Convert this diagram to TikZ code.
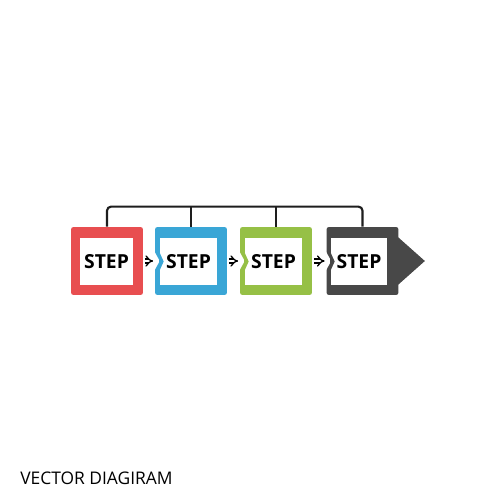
\documentclass[tikz,border=0pt]{standalone}
\usepackage{fontspec}
\setmainfont{Open Sans}
\usetikzlibrary{arrows.meta, calc, positioning}

\definecolor{my_red}{RGB}{232,78,80}
\definecolor{my_blue}{RGB}{58,166,214}
\definecolor{my_green}{RGB}{150,192,70}
\definecolor{my_dark}{RGB}{72,72,72}
\definecolor{my_line}{RGB}{30,30,30}

\tikzset{
	frame/.style={rectangle, rounded corners=0.05cm, minimum width=1.44cm, minimum height=1.36cm, inner sep=0pt},
	stepbox/.style={rectangle, fill=white, minimum width=1.14cm, minimum height=0.94cm, inner sep=0pt, font=\bfseries\fontsize{11}{13}\selectfont},
	imp/.style={draw=black, line width=0.75pt, double, double distance=1.4pt, -{Implies}, shorten <=0.03cm, shorten >=0.03cm},
	bracket/.style={draw=my_line, line width=1.2pt, rounded corners=0.08cm}
}

\begin{document}
\begin{tikzpicture}[x=0.02cm, y=-0.02cm]

	\fill[white] (0,0) rectangle (500,500);
	\useasboundingbox (0,0) rectangle (500,500);

	% frames
	\node [frame, fill=my_red] (f1) at (107,261) {};
	\node [frame, fill=my_blue] (f2) at (191,261) {};
	\node [frame, fill=my_green] (f3) at (276,261) {};
	\node [frame, fill=my_dark] (f4) at (362.5,261) {};

	% white inner boxes
	\node [stepbox, minimum width=1.06cm] (s1) at (106.5,261.5) {STEP};
	\node [stepbox] (s2) at ([xshift=-0.05cm]f2.center |- s1) {STEP};
	\node [stepbox] (s3) at ([xshift=-0.05cm]f3.center |- s1) {STEP};
	\node [stepbox, minimum width=1.12cm] (s4) at ([xshift=-0.07cm]f4.center |- s1) {STEP};

	% chevron notches on the left sides
	\foreach \f/\s/\c in {f2/s2/my_blue, f3/s3/my_green, f4/s4/my_dark} {
		\fill[white] ($(\f.west)+(-0.5,-10)$) -- ($(\f.west)+(5,0)$) -- ($(\f.west)+(-0.5,10)$) -- cycle;
		\fill[\c] ($(\s.west)+(-0.5,-10)$) -- ($(\s.west)+(4,0)$) -- ($(\s.west)+(-0.5,10)$) -- cycle;
	}

	% arrow head of the last box
	\fill[my_dark] ($(f4.east)+(-1,-24)$) -- ($(f4.east)+(26,0)$) -- ($(f4.east)+(-1,24)$) -- cycle;

	% small arrows
	\path [imp] (f1.east) -- (f2.west);
	\path [imp] (f2.east) -- (f3.west);
	\path [imp] (f3.east) -- (f4.west);

	% bracket over the steps
	\path [bracket] (f1.north) -- ++(0,-20) -| (f4.north);
	\path [bracket] (f2.north) -- ++(0,-20);
	\path [bracket] (f3.north) -- ++(0,-20);

	\node [anchor=base west, inner sep=0pt, font=\fontsize{9.9}{11}\selectfont] (title) at (20,484) {VECTOR DIAGIRAM};

\end{tikzpicture}
\end{document}
